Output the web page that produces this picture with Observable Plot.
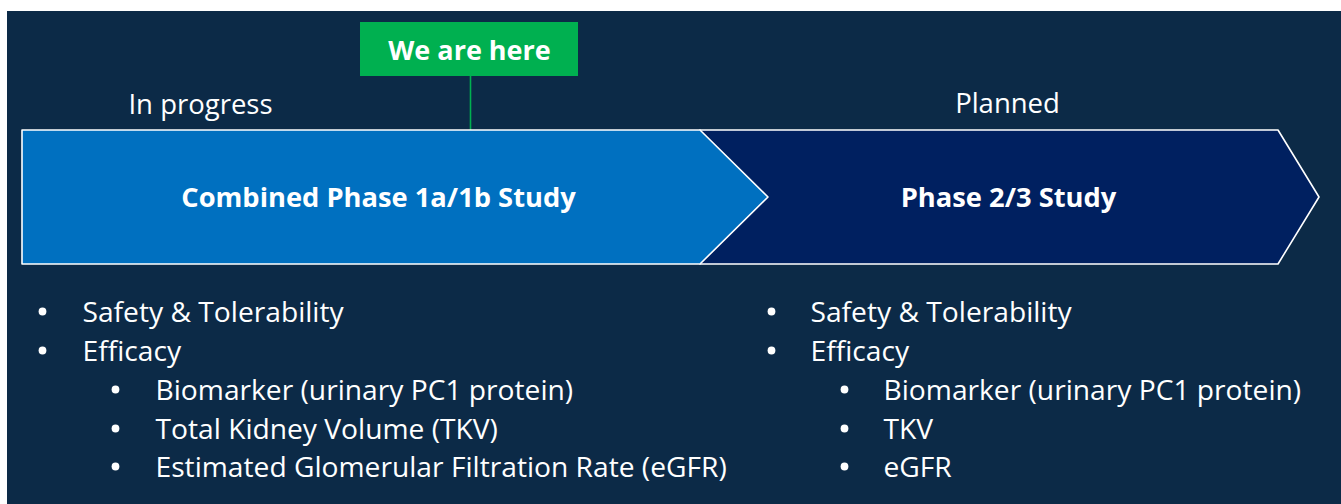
<!DOCTYPE html>
<html>
<head>
<meta charset="utf-8">
<script src="https://cdn.jsdelivr.net/npm/d3@7"></script>
<script src="https://cdn.jsdelivr.net/npm/@observablehq/plot@0.6"></script>
<style>
  html, body { margin: 0; padding: 0; background: #ffffff; }
  #chart svg { display: block; }
</style>
</head>
<body>
<div id="chart"></div>
<script>
// ---- data ----
const statusLabels = ["In progress", "Planned"];
const phaseNames = ["Combined Phase 1a/1b Study", "Phase 2/3 Study"];
const phaseColors = ["#0070c0", "#002060"];
const markerLabel = "We are here";
const leftItems = [
  "Safety & Tolerability",
  "Efficacy",
  "Biomarker (urinary PC1 protein)",
  "Total Kidney Volume (TKV)",
  "Estimated Glomerular Filtration Rate (eGFR)"
];
const leftLevels = [0, 0, 1, 1, 1];
const rightItems = [
  "Safety & Tolerability",
  "Efficacy",
  "Biomarker (urinary PC1 protein)",
  "TKV",
  "eGFR"
];
const rightLevels = [0, 0, 1, 1, 1];

// ---- layout (canvas coordinates) ----
const W = 1341, H = 504;
const FONT = "'Open Sans', 'Noto Sans', sans-serif";
const panel = {x1: 7, x2: W, y1: 11, y2: H};
const bandTop = 130, bandBottom = 264, bandMid = 197;
const arrowA = {x0: 22, x1: 700, tip: 768};
const arrowB = {x0: 700, x1: 1278, tip: 1319};
const box = {x1: 360, x2: 578, y1: 22, y2: 76};
const markerX = 470;

function arrowPts(a, name, color) {
  return [
    {x: a.x0, y1: bandTop, y2: bandBottom, name, color},
    {x: a.x1, y1: bandTop, y2: bandBottom, name, color},
    {x: a.tip, y1: bandMid, y2: bandMid, name, color}
  ];
}
const shapeB = arrowPts(arrowB, phaseNames[1], phaseColors[1]);
const shapeA = arrowPts(arrowA, phaseNames[0], phaseColors[0]);

const rowY = [312, 351, 390, 429, 467];
function bulletRows(items, levels, bx, tx, indent) {
  return items.map((t, i) => ({
    text: t,
    y: rowY[i],
    bx: bx + levels[i] * indent,
    tx: tx + levels[i] * indent
  }));
}
const leftRows = bulletRows(leftItems, leftLevels, 42, 82, 73);
const rightRows = bulletRows(rightItems, rightLevels, 771, 810, 73);
const rows = leftRows.concat(rightRows);

const statusPos = [{x: 200, y: 104}, {x: 1007, y: 103}];
const phaseLabelPos = [{x: 378, y: 198}, {x: 1008, y: 198}];

const chart = Plot.plot({
  width: W,
  height: H,
  margin: 0,
  style: {background: "#ffffff", fontFamily: FONT},
  x: {domain: [0, W], range: [0, W], axis: null},
  y: {domain: [0, H], range: [0, H], axis: null},
  marks: [
    Plot.rect([panel], {x1: "x1", x2: "x2", y1: "y1", y2: "y2", fill: "#0c2a47"}),
    // marker connector
    Plot.ruleX([markerX], {x: d => d, y1: () => box.y2, y2: () => bandTop, stroke: "#00b050", strokeWidth: 1.6}),
    // marker box
    Plot.rect([box], {x1: "x1", x2: "x2", y1: "y1", y2: "y2", fill: "#00b050"}),
    Plot.text([markerLabel], {x: () => (box.x1 + box.x2) / 2, y: () => (box.y1 + box.y2) / 2 + 1.5, text: d => d,
      fill: "white", fontSize: 27, fontWeight: "bold"}),
    // status labels
    Plot.text(statusLabels, {x: (d, i) => statusPos[i].x, y: (d, i) => statusPos[i].y + 1, text: d => d,
      fill: "white", fontSize: 27.5}),
    // phase arrows
    Plot.areaY(shapeB, {x: "x", y1: "y1", y2: "y2", fill: "color", stroke: "white", strokeWidth: 1.6, curve: "linear"}),
    Plot.areaY(shapeA, {x: "x", y1: "y1", y2: "y2", fill: "color", stroke: "white", strokeWidth: 1.6, curve: "linear"}),
    Plot.text(phaseNames, {x: (d, i) => phaseLabelPos[i].x, y: (d, i) => phaseLabelPos[i].y, text: d => d,
      fill: "white", fontSize: 27.3, fontWeight: "bold"}),
    // bullets
    Plot.dot(rows, {x: "bx", y: d => d.y - 1, r: 3.9, fill: "white", stroke: null}),
    Plot.text(rows, {x: "tx", y: "y", text: "text", textAnchor: "start", fill: "white", fontSize: 28.2})
  ]
});
document.getElementById("chart").appendChild(chart);
</script>
</body>
</html>
